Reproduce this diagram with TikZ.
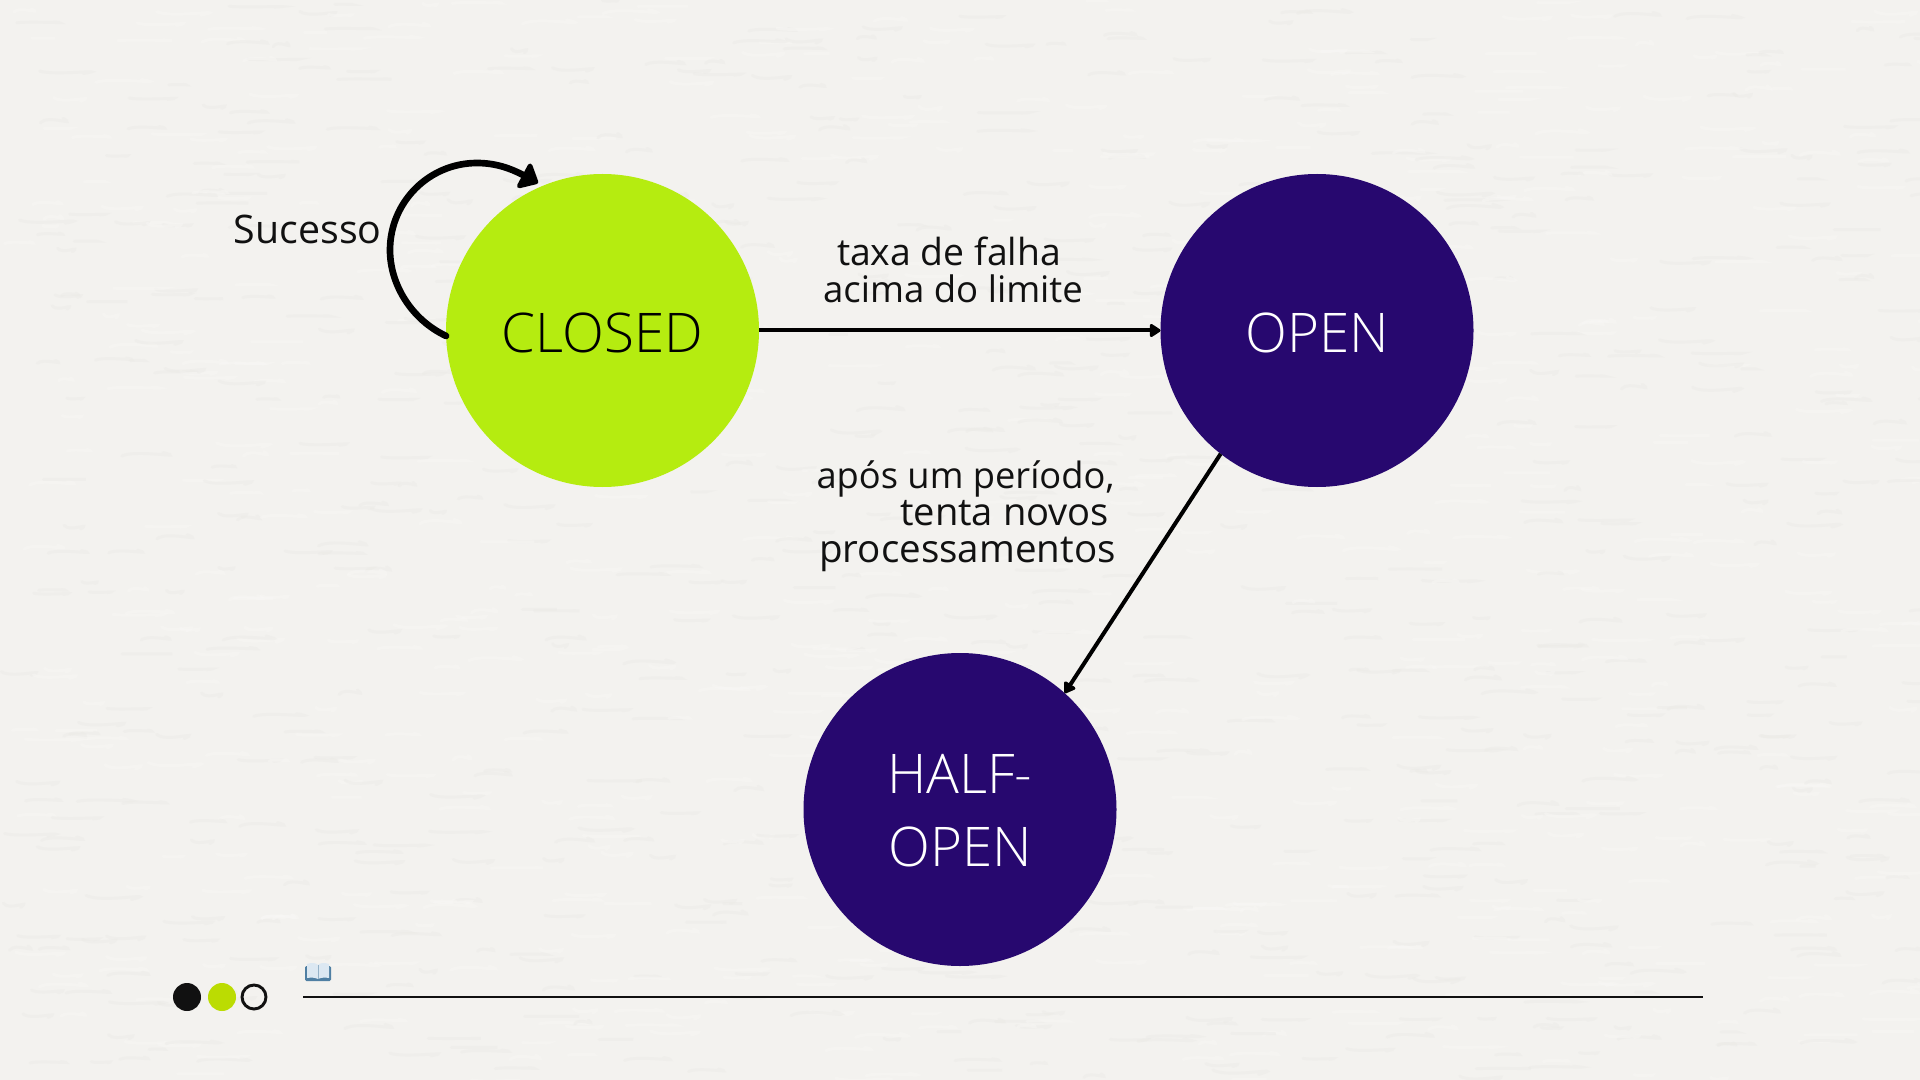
\documentclass[tikz,border=0pt]{standalone}
\usepackage{fontspec}
\setmainfont{Open Sans}
\newfontfamily\thinface{Open Sans Light}
\usetikzlibrary{arrows.meta}
\definecolor{paper}{HTML}{F3F2EF}
\definecolor{limeA}{HTML}{B5EC10}
\definecolor{limeB}{HTML}{BBDC02}
\definecolor{violetA}{HTML}{27086F}
\definecolor{inkA}{HTML}{111111}
\definecolor{bookA}{HTML}{4F7FA3}
\definecolor{bookB}{HTML}{DCE8F2}
\definecolor{grainA}{HTML}{F9F8F6}
\definecolor{grainB}{HTML}{EAE9E5}
\newcommand{\lowertext}[2]{\raisebox{-#1}[\height][\depth]{#2}}
\newcommand{\sz}[1]{\fontsize{#1}{27.8}\selectfont}
\tikzset{
  x=0.75pt,y=-0.75pt,
  state/.style={circle,minimum size=234.75pt,inner sep=0pt,outer sep=0pt,font=\thinface\fontsize{41}{55}\selectfont,align=center},
  edgelabel/.style={inner sep=0pt,text=inkA,font=\fontsize{28}{27.8}\selectfont},
  conn/.style={draw=black,line width=3pt,-{Triangle[length=9pt,width=11pt,round]}},
  dot/.style={circle,inner sep=0pt,outer sep=0pt},
  grain/.style={line width=2.2pt,line cap=round,opacity=0.4}
}
\begin{document}
\begin{tikzpicture}
\fill[paper] (0,0) rectangle (1920,1080);
\useasboundingbox (0,0) rectangle (1920,1080);
\pgfmathsetseed{41}
\foreach \i in {1,...,1400}{
  \pgfmathsetmacro{\gx}{rnd*1920}
  \pgfmathsetmacro{\gy}{rnd*1080}
  \pgfmathsetmacro{\gl}{12+rnd*34}
  \pgfmathsetmacro{\gd}{-9+rnd*18}
  \pgfmathparse{rnd<0.5?1:0}
  \ifnum\pgfmathresult=1
    \draw[grain,draw=grainA] (\gx,\gy) .. controls +(\gl/3,\gd) and +(\gl*2/3,-\gd) .. +(\gl,\gd/2);
  \else
    \draw[grain,draw=grainB] (\gx,\gy) .. controls +(\gl/3,\gd) and +(\gl*2/3,-\gd) .. +(\gl,\gd/2);
  \fi
}
\node[state,fill=limeA,text=black] (closed) at (602.5,330.5) {\lowertext{1.5pt}{CLOSED}};
\node[state,fill=violetA,text=white] (open) at (1317,330.5) {\lowertext{1.5pt}{OPEN}};
\node[state,fill=violetA,text=white] (half) at (960,809.5) {\lowertext{1pt}{HALF-}\\\lowertext{1pt}{OPEN}};
\draw[conn] (closed) -- (open);
\draw[conn] (open.232) -- (half.48);
\coordinate (loopend) at (538,183);
\draw[line width=5pt,line cap=round,-{Triangle[length=14pt,width=24pt,round]}] (closed.182) .. controls (412,320) and (390,285) .. (390,250) .. controls (390,202) and (429,163) .. (477,163) .. controls (495,163) and (510,168) .. (loopend);
\node[edgelabel,anchor=east,font=\fontsize{29.5}{30}\selectfont] (sucesso) at (382,229) {Sucesso};
\node[edgelabel,align=center] (rate) at (953,270) {\sz{28}taxa de falha\rule{6pt}{0pt}\\\sz{27.4}acima do limite};
\node[edgelabel,align=right,anchor=east] (after) at (1116,516) {\sz{27.2}após um período,\rule{1pt}{0pt}\\\sz{28.6}tenta novos\rule{5pt}{0pt}\\\sz{28.9}processamentos};
\node[dot,fill=inkA,minimum size=21pt] (d1) at (187,997) {};
\node[dot,fill=limeB,minimum size=21pt] (d2) at (222,997) {};
\node[dot,draw=inkA,line width=2.2pt,minimum size=18pt] (d3) at (254,997) {};
\coordinate (rulestart) at (303,997);
\coordinate (ruleend) at (1703,997);
\draw[inkA,line width=1.8pt] (rulestart) -- (ruleend);
% book icon
\fill[bookA,rounded corners=1pt] (305,966) -- (305,981) -- (331,981) -- (331,966) -- cycle;
\fill[bookB] (307,964) .. controls (312,962) and (316,963) .. (318,965) .. controls (320,963) and (324,962) .. (329,964) -- (329,978) .. controls (324,977) and (320,978) .. (318,979) .. controls (316,978) and (312,977) .. (307,978) -- cycle;
\draw[bookA!60,line width=0.4pt] (318,965) -- (318,979);
\end{tikzpicture}
\end{document}
